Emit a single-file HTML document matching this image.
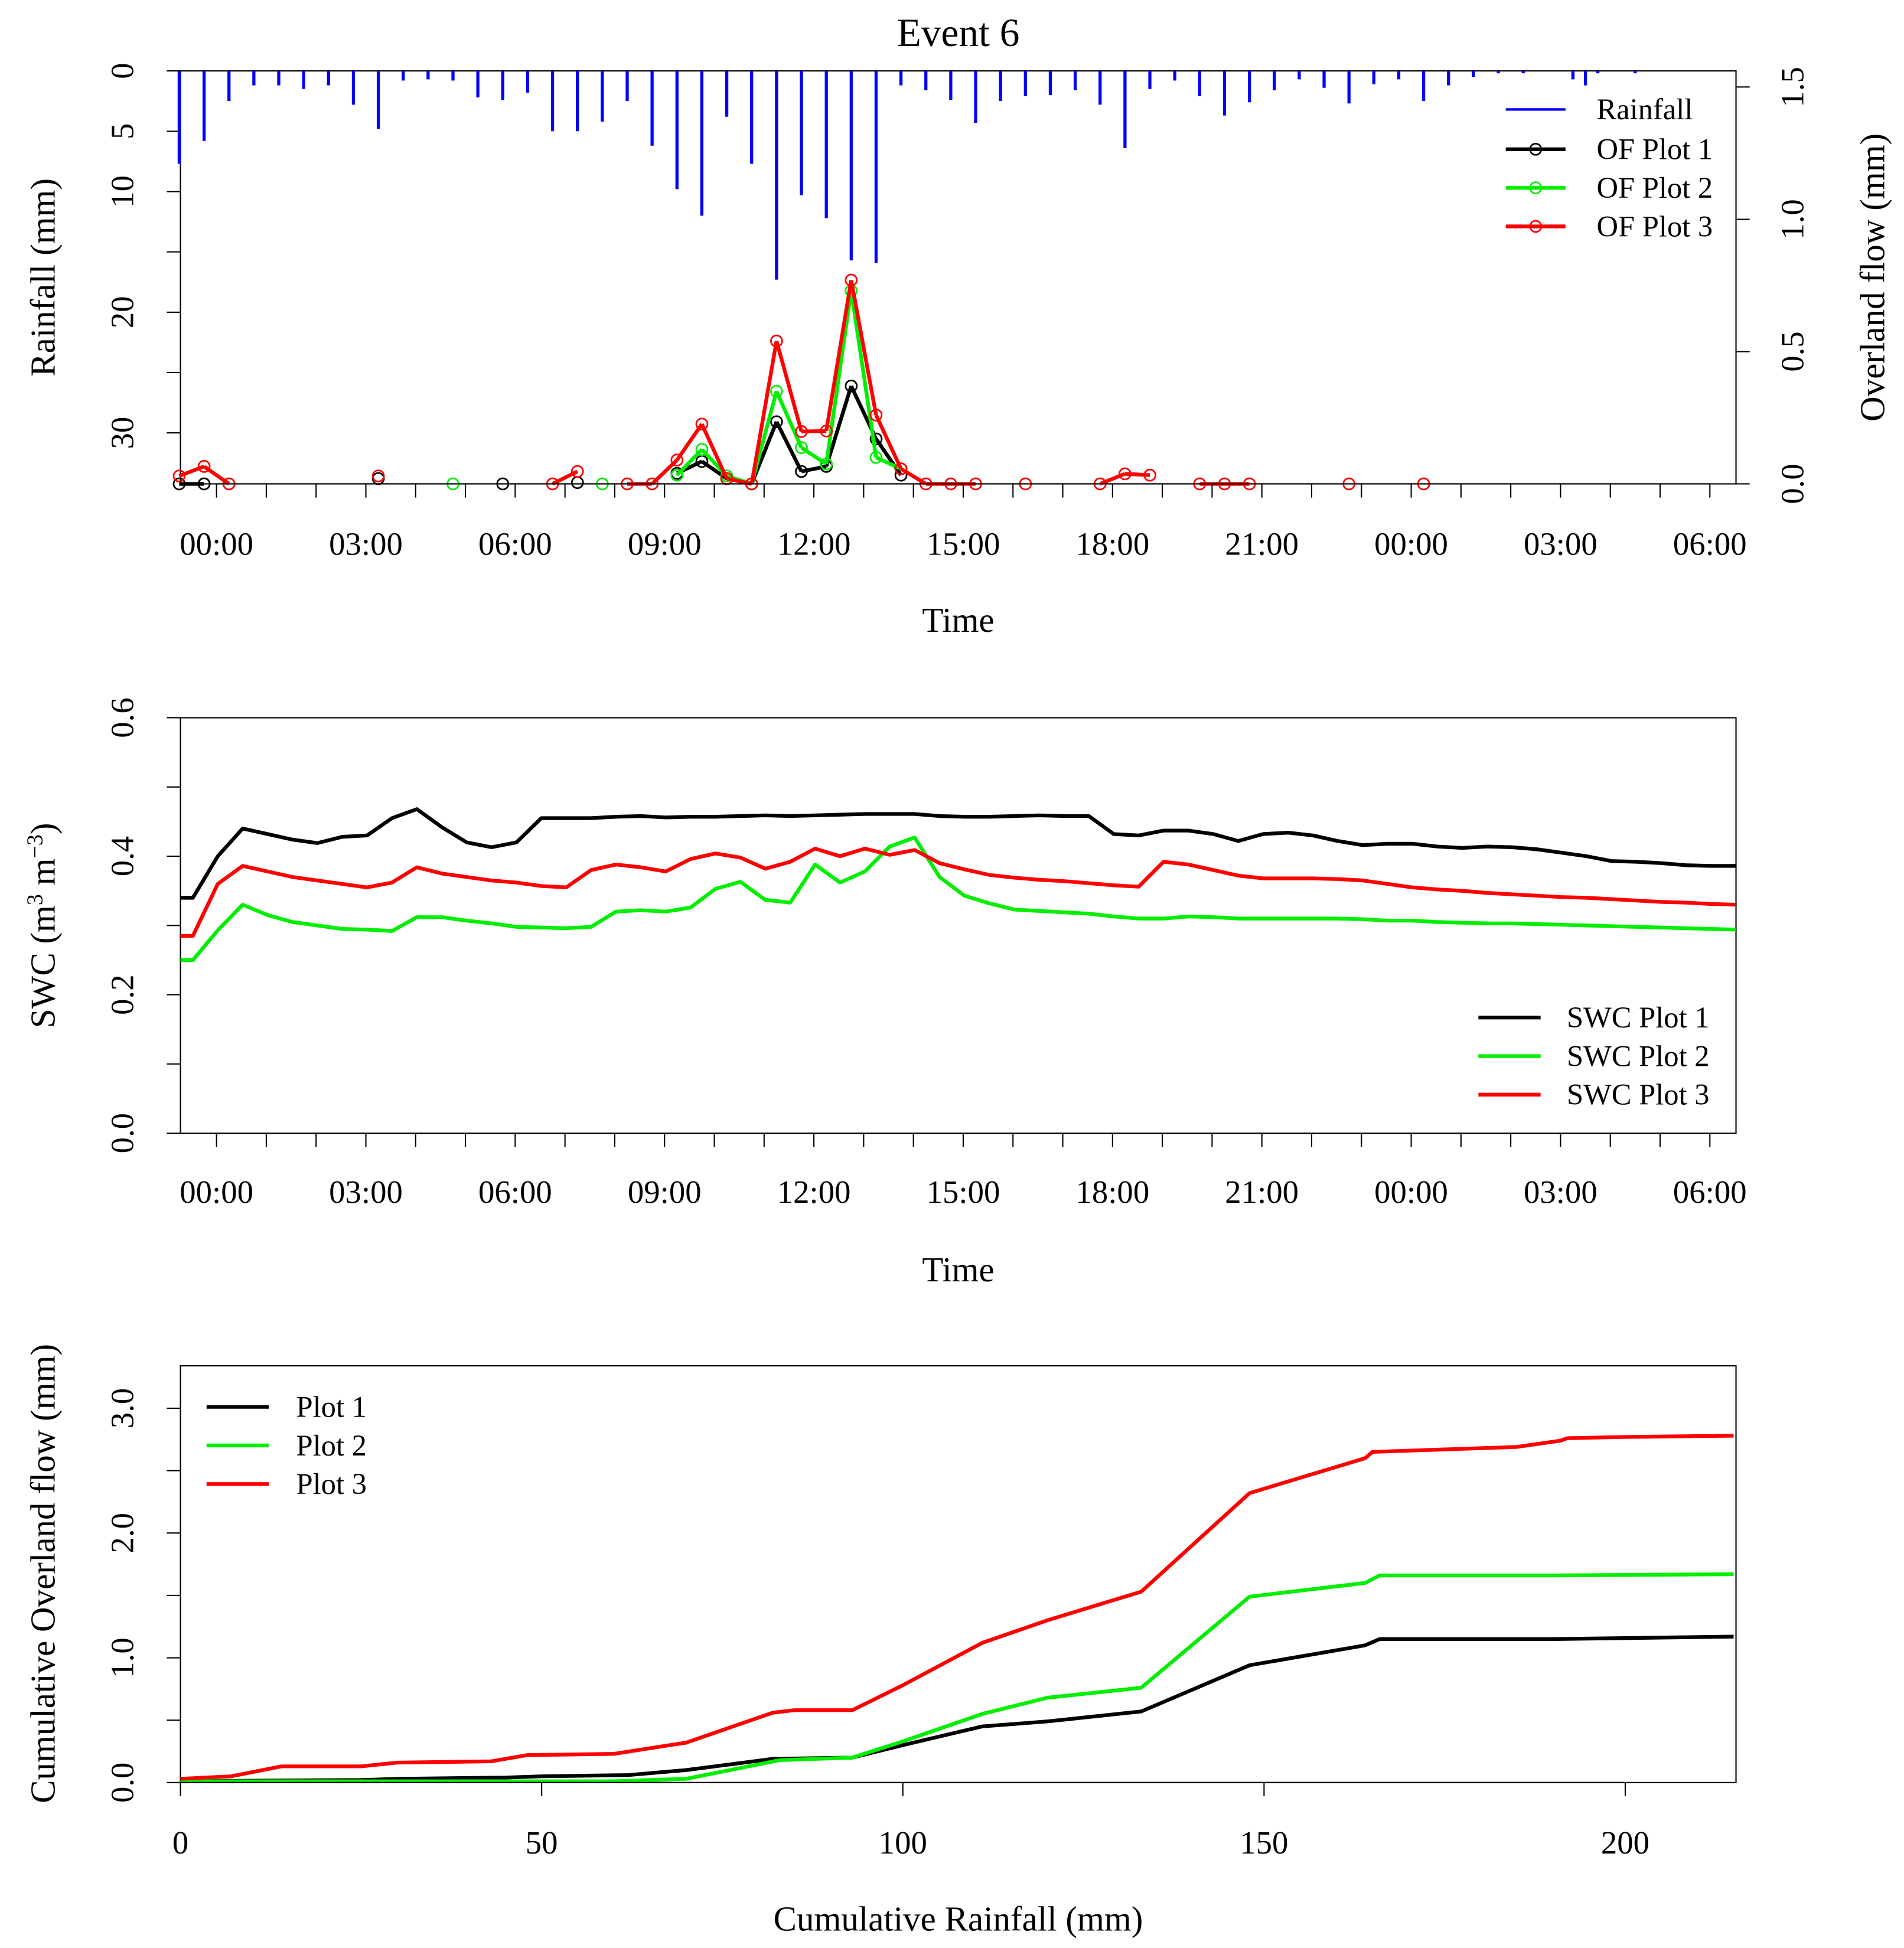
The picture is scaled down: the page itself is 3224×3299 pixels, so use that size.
<!DOCTYPE html>
<html><head><meta charset="utf-8">
<style>
html,body{margin:0;padding:0;background:#fff;}
svg{display:block;font-family:"Liberation Serif",serif;}
</style></head>
<body>
<svg id="chart" width="3224" height="3299" viewBox="0 0 1530 1566" preserveAspectRatio="none" xmlns="http://www.w3.org/2000/svg">
<rect width="1530" height="1566" fill="#fff"/>
<g id="g"></g>
</svg>
<script>
// ---------- Panel 1 data ----------
const rainHours = [-0.75,-0.25,0.25,0.75,1.25,1.75,2.25,2.75,3.25,3.75,4.25,4.75,5.25,5.75,6.25,6.75,7.25,7.75,8.25,8.75,9.25,9.75,10.25,10.75,11.25,11.75,12.25,12.75,13.25,13.75,14.25,14.75,15.25,15.75,16.25,16.75,17.25,17.75,18.25,18.75,19.25,19.75,20.25,20.75,21.25,21.75,22.25,22.75,23.25,23.75,24.25,24.75,25.25,25.75,26.25,27.25,27.5,27.75,28.5];
const rainMM = [7.7,5.8,2.5,1.2,1.2,1.5,1.2,2.8,4.8,0.8,0.7,0.8,2.2,2.4,1.8,5,5,4.2,2.5,6.2,9.8,12,3.8,7.7,17.3,10.3,12.2,15.7,15.9,1.2,1.6,2.4,4.3,2.5,2.1,2,1.6,2.8,6.4,1.5,0.8,2.1,3.7,2.6,1.6,0.7,1.4,2.7,1.1,0.7,2.5,1.2,0.5,0.2,0.2,0.7,1.2,0.2,0.2];
const ofIndex = [0,1,2,8,11,13,15,16,17,18,19,20,21,22,23,24,25,26,27,28,29,30,31,32,34,37,38,39,41,42,43,47,50];
const of1 = [0,0,null,0.02,null,0,null,0.005,null,null,null,0.04,0.085,0.02,0,0.235,0.047,0.066,0.37,0.17,0.033,null,null,null,null,null,null,null,null,null,null,null,null];
const of2 = [null,null,null,null,0,null,null,null,0,null,null,0.033,0.13,0.03,0,0.35,0.137,0.075,0.73,0.1,0.057,null,null,null,null,null,null,null,null,null,null,null,null];
const of3 = [0.03,0.066,0,0.03,null,null,0,0.047,null,0,0,0.09,0.226,0.02,0,0.54,0.198,0.2,0.77,0.26,0.057,0,0,0,0,0,0.038,0.033,0,0,0,0,0];
// ---------- Panel 2 data ----------
const swcHours = [-0.725,-0.475,0.025,0.525,1.025,1.525,2.025,2.525,3.025,3.525,4.025,4.525,5.025,5.525,6.025,6.525,7.025,7.525,8.025,8.525,9.025,9.525,10.025,10.525,11.025,11.525,12.025,12.525,13.025,13.525,14.025,14.525,15.025,15.525,16.025,16.525,17.025,17.525,18.025,18.525,19.025,19.525,20.025,20.525,21.025,21.525,22.025,22.525,23.025,23.525,24.025,24.525,25.025,25.525,26.025,26.525,27.025,27.525,28.025,28.525,29.025,29.525,30.025,30.525];
const swc1 = [0.34,0.34,0.40,0.44,0.432,0.424,0.419,0.428,0.43,0.455,0.468,0.442,0.42,0.413,0.42,0.455,0.455,0.455,0.457,0.458,0.456,0.457,0.457,0.458,0.459,0.458,0.459,0.46,0.461,0.461,0.461,0.458,0.457,0.457,0.458,0.459,0.458,0.458,0.432,0.43,0.437,0.437,0.432,0.422,0.432,0.434,0.43,0.422,0.416,0.418,0.418,0.414,0.412,0.414,0.413,0.41,0.405,0.4,0.393,0.392,0.39,0.387,0.386,0.386];
const swc2 = [0.25,0.25,0.293,0.33,0.315,0.305,0.3,0.295,0.294,0.292,0.312,0.312,0.307,0.303,0.298,0.297,0.296,0.298,0.32,0.322,0.32,0.326,0.353,0.363,0.337,0.333,0.388,0.362,0.378,0.414,0.427,0.37,0.343,0.332,0.323,0.321,0.319,0.317,0.313,0.31,0.31,0.313,0.312,0.31,0.31,0.31,0.31,0.31,0.309,0.307,0.307,0.305,0.304,0.303,0.303,0.302,0.301,0.3,0.299,0.298,0.297,0.296,0.295,0.294];
const swc3 = [0.285,0.285,0.36,0.386,0.378,0.37,0.365,0.36,0.355,0.362,0.384,0.375,0.37,0.365,0.362,0.357,0.355,0.38,0.388,0.384,0.378,0.396,0.404,0.398,0.382,0.392,0.411,0.4,0.411,0.402,0.409,0.39,0.381,0.373,0.369,0.366,0.364,0.361,0.358,0.356,0.392,0.388,0.38,0.372,0.368,0.368,0.368,0.367,0.365,0.36,0.355,0.352,0.35,0.347,0.345,0.343,0.341,0.34,0.338,0.336,0.334,0.333,0.331,0.33];
// ---------- Panel 3 data ----------
const cum1R = [0,10,25,30,45,50,62,70,82,93,100,111,120,133,148,164,166,180,190,215];
const cum1V = [0.01,0.015,0.02,0.03,0.04,0.05,0.06,0.1,0.19,0.2,0.3,0.45,0.49,0.57,0.94,1.1,1.15,1.15,1.15,1.17];
const cum2R = [0,60,70,83,93,100,111,120,133,148,164,166,190,215];
const cum2V = [0.01,0.01,0.03,0.18,0.2,0.33,0.55,0.68,0.76,1.49,1.6,1.66,1.66,1.67];
const cum3R = [0,7,14,25,30,43,48,60,70,82,85,93,100,111,120,133,148,164,165,180,185,191,192,200,215];
const cum3V = [0.03,0.05,0.13,0.13,0.16,0.17,0.22,0.23,0.32,0.56,0.58,0.58,0.78,1.12,1.3,1.53,2.32,2.6,2.65,2.68,2.69,2.74,2.76,2.77,2.78];
const timeTicks = ["00:00","03:00","06:00","09:00","12:00","15:00","18:00","21:00","00:00","03:00","06:00"];

const NS = "http://www.w3.org/2000/svg";
const g = document.getElementById('g');
function el(tag, attrs, parent) {
  const e = document.createElementNS(NS, tag);
  for (const k in attrs) e.setAttribute(k, attrs[k]);
  (parent || g).appendChild(e);
  return e;
}
function txt(s, x, y, size, rot, anchor) {
  const t = el('text', {x: x, y: y, 'font-size': size, 'text-anchor': anchor || 'middle', fill: '#000'});
  if (rot) t.setAttribute('transform', `rotate(${rot} ${x} ${y})`);
  t.textContent = s;
  return t;
}
const L = 145, R = 1395;
const xT = h => 174 + 40 * h;

// ===== Panel 1 =====
const p1T = 57, p1B = 389;
const yRain = v => p1T + v * 9.7;
const yOF = v => p1B - v * 212.7;
const t1 = txt('Event 6', 770, 37, 32);


const box1 = el('rect', {x: L, y: p1T, width: R - L, height: p1B - p1T, fill: 'none', stroke: '#000', 'stroke-width': 1});


rainHours.forEach((h, i) => {
  const b = el('line', {x1: xT(h), x2: xT(h), y1: p1T, y2: yRain(rainMM[i]), stroke: '#0000ff', 'stroke-width': 2.5});
  
  
});
function ofSeries(vals, color, name) {
  const grp = el('g', {});
  
  
  let prev = null;
  ofIndex.forEach((idx, k) => {
    const v = vals[k];
    if (v === null) { prev = null; return; }
    const x = 144 + 20 * idx, y = yOF(v);
    if (prev && prev.idx === idx - 1) {
      el('line', {x1: prev.x, y1: prev.y, x2: x, y2: y, stroke: color, 'stroke-width': 3}, grp);
    }
    prev = {idx: idx, x: x, y: y};
  });
  ofIndex.forEach((idx, k) => {
    const v = vals[k];
    if (v === null) return;
    const c = el('circle', {cx: 144 + 20 * idx, cy: yOF(v), r: 4.5, fill: 'none', stroke: color, 'stroke-width': 1.3}, grp);
    
    
  });
}
ofSeries(of1, '#000', 'of-plot-1-series');
ofSeries(of2, '#00ee00', 'of-plot-2-series');
ofSeries(of3, '#ff0000', 'of-plot-3-series');
function timeAxis(yBase, lblY) {
  for (let h = 0; h <= 30; h++) {
    el('line', {x1: xT(h), x2: xT(h), y1: yBase, y2: yBase + 11, stroke: '#000', 'stroke-width': 1});
  }
  el('line', {x1: xT(0), x2: xT(30), y1: yBase, y2: yBase, stroke: '#000', 'stroke-width': 1});
  timeTicks.forEach((s, i) => txt(s, xT(i * 3), lblY, 26));
}
timeAxis(p1B, 446);
const xl1 = txt('Time', 770, 508, 28);


for (let v = 0; v <= 30; v += 5) {
  el('line', {x1: L, x2: L - 11, y1: yRain(v), y2: yRain(v), stroke: '#000'});
}
[0, 5, 10, 20, 30].forEach(v => txt(String(v), 107, yRain(v), 26, -90));
const yl1 = txt('Rainfall (mm)', 44, 223, 28, -90);


[0, 0.5, 1.0, 1.5].forEach(v => {
  el('line', {x1: R, x2: R + 11, y1: yOF(v), y2: yOF(v), stroke: '#000'});
  txt(v.toFixed(1), 1449, yOF(v), 26, -90);
});
const yr1 = txt('Overland flow (mm)', 1514, 223, 28, -90);


function legend(items, x1, x2, tx, ys, pts) {
  const lg = el('g', {});
  
  
  items.forEach((it, i) => {
    el('line', {x1: x1, x2: x2, y1: ys[i], y2: ys[i], stroke: it[1], 'stroke-width': it[2] || 3}, lg);
    if (pts && pts[i]) el('circle', {cx: (x1 + x2) / 2, cy: ys[i], r: 4.5, fill: 'none', stroke: it[1], 'stroke-width': 1.3}, lg);
    const t = txt(it[0], tx, ys[i] + 8, 24, 0, 'start');
    lg.appendChild(t);
  });
}
legend([['Rainfall', '#0000ff', 2], ['OF Plot 1', '#000'], ['OF Plot 2', '#00ee00'], ['OF Plot 3', '#ff0000']], 1210, 1258, 1283, [88, 120, 151, 182], [false, true, true, true]);

// ===== Panel 2 =====
const p2T = 577, p2B = 911;
const ySWC = v => p2B - v * 556.7;
const box2 = el('rect', {x: L, y: p2T, width: R - L, height: p2B - p2T, fill: 'none', stroke: '#000'});


function polyl(xs, ys, color, name) {
  const p = el('polyline', {points: xs.map((x, i) => x + ',' + ys[i]).join(' '), fill: 'none', stroke: color, 'stroke-width': 3, 'stroke-linejoin': 'round'});
  
  
}
polyl(swcHours.map(xT), swc1.map(ySWC), '#000', 'swc-plot-1-line');
polyl(swcHours.map(xT), swc2.map(ySWC), '#00ee00', 'swc-plot-2-line');
polyl(swcHours.map(xT), swc3.map(ySWC), '#ff0000', 'swc-plot-3-line');
timeAxis(p2B, 967);
const xl2 = txt('Time', 770, 1030, 28);


for (let k = 0; k <= 6; k++) {
  el('line', {x1: L, x2: L - 11, y1: ySWC(k / 10), y2: ySWC(k / 10), stroke: '#000'});
}
[0, 0.2, 0.4, 0.6].forEach(v => txt(v.toFixed(1), 107, ySWC(v), 26, -90));
const yl2 = el('text', {x: 44, y: 744, 'font-size': 28, 'text-anchor': 'middle', transform: 'rotate(-90 44 744)'});


yl2.innerHTML = 'SWC (m<tspan font-size="18" dy="-10">3</tspan><tspan dy="10"> m</tspan><tspan font-size="18" dy="-10">−3</tspan><tspan dy="10">)</tspan>';
legend([['SWC Plot 1', '#000'], ['SWC Plot 2', '#00ee00'], ['SWC Plot 3', '#ff0000']], 1188, 1238, 1259, [818, 849, 880]);

// ===== Panel 3 =====
const p3T = 1098, p3B = 1433;
const xC = v => 145 + v * 5.805;
const yC = v => p3B - v * 100.3;
const box3 = el('rect', {x: L, y: p3T, width: R - L, height: p3B - p3T, fill: 'none', stroke: '#000'});


polyl(cum1R.map(xC), cum1V.map(yC), '#000', 'cum-plot-1-line');
polyl(cum2R.map(xC), cum2V.map(yC), '#00ee00', 'cum-plot-2-line');
polyl(cum3R.map(xC), cum3V.map(yC), '#ff0000', 'cum-plot-3-line');
el('line', {x1: xC(0), x2: xC(200), y1: p3B, y2: p3B, stroke: '#000'});
[0, 50, 100, 150, 200].forEach(v => {
  el('line', {x1: xC(v), x2: xC(v), y1: p3B, y2: p3B + 11, stroke: '#000'});
  txt(String(v), xC(v), 1490, 26);
});
const xl3 = txt('Cumulative Rainfall (mm)', 770, 1552, 28);


for (let k = 0; k <= 6; k++) {
  el('line', {x1: L, x2: L - 11, y1: yC(k / 2), y2: yC(k / 2), stroke: '#000'});
}
[0, 1, 2, 3].forEach(v => txt(v.toFixed(1), 107, yC(v), 26, -90));
const yl3 = txt('Cumulative Overland flow (mm)', 44, 1265, 28, -90);


legend([['Plot 1', '#000'], ['Plot 2', '#00ee00'], ['Plot 3', '#ff0000']], 166, 216, 238, [1131, 1162, 1193]);
</script>
</body></html>
